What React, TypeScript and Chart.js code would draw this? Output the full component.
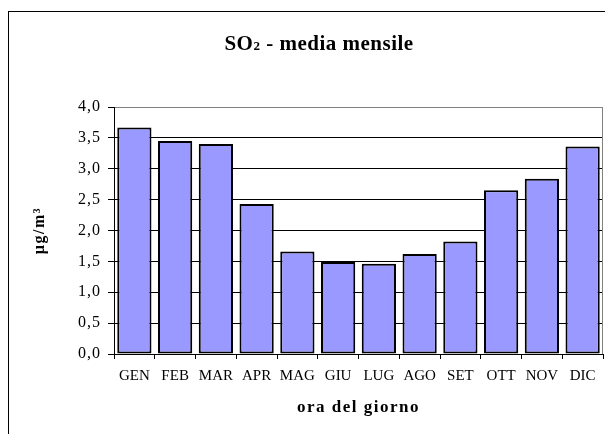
import React, { useEffect, useRef } from 'react';
import { Chart, registerables } from 'chart.js';

Chart.register(...registerables);

// ---- data ----
const months: string[] = ['GEN', 'FEB', 'MAR', 'APR', 'MAG', 'GIU', 'LUG', 'AGO', 'SET', 'OTT', 'NOV', 'DIC'];
const so2Monthly: number[] = [3.67, 3.45, 3.40, 2.43, 1.66, 1.49, 1.46, 1.62, 1.82, 2.65, 2.84, 3.36];
const yMin = 0;
const yMax = 4;
const yStep = 0.5;

// ---- texts ----
const titleMain = 'SO';
const titleSub = '2';
const titleRest = ' - media mensile';
const yTitle = 'µg/m³';
const xTitle = 'ora del giorno';

const FONT = '"Liberation Serif", "Times New Roman", serif';

const spacing: Record<string, { ticks: string; title: string }> = {
  x: { ticks: '0px', title: '1.5px' },
  y: { ticks: '1px', title: '1.5px' },
};

const setSpacing = (ctx: any, v: string) => {
  if (ctx && 'letterSpacing' in ctx) ctx.letterSpacing = v;
};

const framePlugin = {
  id: 'framePlugin',
  beforeDraw(chart: any) {
    const ctx = chart.ctx;
    ctx.save();
    ctx.fillStyle = '#ffffff';
    ctx.fillRect(0, 0, chart.width, chart.height);
    ctx.strokeStyle = '#000000';
    ctx.lineWidth = 1;
    ctx.strokeRect(8.5, 11.5, 800, 600);
    ctx.restore();
    Object.values(chart.scales).forEach((s: any) => {
      if (s.__spaced) return;
      s.__spaced = true;
      const cfg = spacing[s.id] || { ticks: '0px', title: '0px' };
      const origLabels = s.drawLabels.bind(s);
      const origTitle = s.drawTitle.bind(s);
      s.drawLabels = (area: any) => {
        setSpacing(s.ctx, cfg.ticks);
        origLabels(area);
        setSpacing(s.ctx, '0px');
      };
      s.drawTitle = () => {
        setSpacing(s.ctx, cfg.title);
        origTitle();
        setSpacing(s.ctx, '0px');
      };
    });
  },
  beforeDatasetsDraw(chart: any) {
    const ctx = chart.ctx;
    const a = chart.chartArea;
    ctx.save();
    ctx.strokeStyle = '#808080';
    ctx.lineWidth = 1;
    ctx.beginPath();
    ctx.moveTo(Math.round(a.right) - 0.5, a.top);
    ctx.lineTo(Math.round(a.right) - 0.5, a.bottom);
    ctx.stroke();
    ctx.restore();
  },
  afterDraw(chart: any) {
    const ctx = chart.ctx;
    ctx.save();
    setSpacing(ctx, '0.5px');
    const big = `bold 21px ${FONT}`;
    const small = `bold 13px ${FONT}`;
    const parts: [string, string][] = [[titleMain, big], [titleSub, small], [titleRest, big]];
    let total = 0;
    const widths = parts.map(([t, f]) => {
      ctx.font = f;
      const w = ctx.measureText(t).width;
      total += w;
      return w;
    });
    let x = 319 - total / 2;
    const baseline = 49.5;
    ctx.fillStyle = '#000000';
    ctx.textAlign = 'left';
    ctx.textBaseline = 'alphabetic';
    parts.forEach(([t, f], i) => {
      ctx.font = f;
      ctx.fillText(t, x, baseline);
      x += widths[i];
    });
    setSpacing(ctx, '0px');
    ctx.restore();
  },
};

export default function App() {
  const canvasRef = useRef<HTMLCanvasElement | null>(null);

  useEffect(() => {
    if (!canvasRef.current) return;
    const chart = new Chart(canvasRef.current, {
      type: 'bar',
      data: {
        labels: months,
        datasets: [
          {
            data: so2Monthly,
            backgroundColor: '#9999FF',
            borderColor: '#000000',
            borderWidth: 2,
            borderSkipped: false,
            barPercentage: 0.84,
            categoryPercentage: 1,
          },
        ],
      },
      options: {
        animation: false,
        responsive: false,
        maintainAspectRatio: false,
        devicePixelRatio: 1,
        layout: { padding: { top: 107, right: 2, bottom: 0, left: 0 } },
        plugins: {
          legend: { display: false },
          title: { display: false },
          tooltip: { enabled: false },
        },
        scales: {
          x: {
            afterFit(scale: any) {
              scale.height = 80;
            },
            grid: {
              drawOnChartArea: false,
              drawTicks: true,
              tickLength: 5,
              color: '#000000',
              offset: true,
            },
            border: { color: '#000000', width: 1 },
            ticks: {
              color: '#000000',
              font: { family: FONT, size: 15 },
              padding: 8,
              maxRotation: 0,
              autoSkip: false,
            },
            title: {
              display: true,
              text: xTitle,
              color: '#000000',
              font: { family: FONT, size: 17, weight: 'bold' },
              padding: { top: 0, bottom: 16 },
            },
          },
          y: {
            min: yMin,
            max: yMax,
            afterFit(scale: any) {
              scale.width = 114;
            },
            grid: {
              color: (c: any) => (c.tick && c.tick.value === yMax ? '#808080' : '#000000'),
              tickColor: '#000000',
              drawTicks: true,
              tickLength: 6,
              lineWidth: 1,
            },
            border: { color: '#000000', width: 1 },
            ticks: {
              stepSize: yStep,
              color: '#000000',
              font: { family: FONT, size: 16 },
              padding: 7,
              callback: (v: any) => Number(v).toFixed(1).replace('.', ','),
            },
            title: {
              display: true,
              text: yTitle,
              color: '#000000',
              font: { family: FONT, size: 16, weight: 'bold' },
              padding: { top: 30, bottom: 0 },
            },
          },
        },
      },
      plugins: [framePlugin],
    });
    return () => chart.destroy();
  }, []);

  return (
    <div style={{ position: 'fixed', left: 0, top: 0, width: 605, height: 434 }}>
      <canvas ref={canvasRef} width={605} height={434} style={{ width: 605, height: 434, display: 'block' }} />
    </div>
  );
}
